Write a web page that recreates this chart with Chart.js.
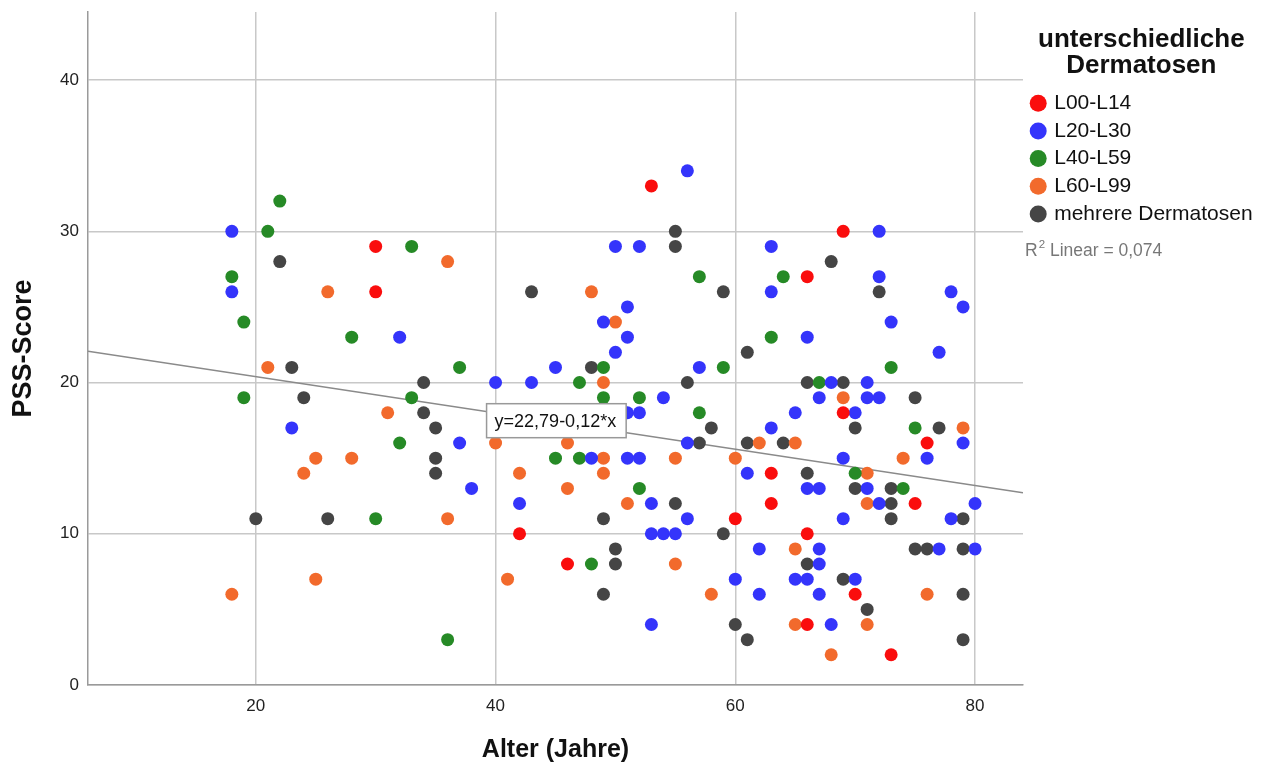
<!DOCTYPE html>
<html>
<head>
<meta charset="UTF-8">
<title>PSS-Score nach Alter</title>
<script src="https://cdn.jsdelivr.net/npm/chart.js"></script>
<style>
  html, body { margin: 0; padding: 0; background: #fff; }
  #wrap { width: 1267px; height: 767px; position: relative; }
</style>
</head>
<body>
<div id="wrap"><canvas id="chart"></canvas></div>
<script>
// Gruppen (Legende)
const groupNames = ['L00-L14', 'L20-L30', 'L40-L59', 'L60-L99', 'mehrere Dermatosen'];
const groupColors = ['#fa0d0d', '#3434fb', '#268a26', '#f26a2c', '#454545'];

// Alter / PSS-Score je Gruppe
const redAge = [53,30,30,69,66,69,63,63,76,75,60,66,42,46,70,66,73];
const redScore = [33,29,26,30,27,18,14,12,16,12,11,10,10,8,6,4,2];

const blueAge = [18,18,32,40,23,37,38,56,50,52,63,63,51,49,51,50,45,57,43,54,51,52,56,48,51,52,42,53,56,53,54,55,61,63,62,67,71,72,65,70,79,69,76,66,67,71,72,80,69,78,67,77,80,67,65,66,70,67,68,60,62,53,72,72,78,79,73,66,77,68,71];
const blueScore = [30,26,23,20,17,16,13,34,29,29,29,26,25,24,23,22,21,21,20,19,18,18,16,15,15,15,12,12,11,10,10,10,14,17,9,19,19,19,18,18,16,15,15,13,13,13,12,12,11,11,9,9,9,8,7,7,7,6,4,7,6,4,30,27,26,25,24,23,22,20,20];

const greenAge = [22,21,33,18,19,28,37,19,33,32,30,36,57,64,63,47,49,59,49,52,57,45,47,52,48,73,67,75,70,74];
const greenScore = [32,30,29,27,24,23,21,19,19,16,11,3,27,27,23,20,21,21,19,19,18,15,15,13,8,21,20,17,14,13];

const orangeAge = [36,26,21,31,25,28,24,36,40,18,25,41,48,50,49,46,49,55,60,42,49,46,51,55,58,69,79,65,74,71,71,62,65,65,71,68,76];
const orangeScore = [28,26,21,18,15,15,14,11,16,6,7,7,26,24,20,16,15,15,15,14,14,13,12,8,6,19,17,16,15,14,12,16,9,4,4,2,6];

const greyAge = [22,23,34,24,34,35,35,35,20,26,43,55,55,59,61,48,56,58,57,61,55,49,59,50,50,49,60,61,75,70,77,64,66,70,73,73,73,79,75,76,79,66,69,71,79,79,68,72,66,69];
const greyScore = [28,21,20,19,18,17,15,14,11,11,26,30,29,26,22,21,20,17,16,16,12,11,10,9,8,6,4,3,19,17,17,16,14,13,13,12,11,11,9,9,9,8,7,5,6,3,28,26,20,20];

// Regressionsgerade (aus dem Diagramm)
const fitIntercept = 22.79;
const fitSlope = -0.12;
const fitLabel = 'y=22,79-0,12*x';
const r2Value = '0,074';

// Achsen
const xMin = 6, xMax = 84;
const yMin = 0, yMax = 44.5;
const xTicks = [20, 40, 60, 80];
const yTicks = [0, 10, 20, 30, 40];

const FONT = "'Liberation Sans', Arial, sans-serif";
Chart.defaults.font.family = FONT;

function pts(xs, ys) {
    return xs.map((x, i) => ({ x: x, y: ys[i] }));
}

const groups = [
    pts(redAge, redScore),
    pts(blueAge, blueScore),
    pts(greenAge, greenScore),
    pts(orangeAge, orangeScore),
    pts(greyAge, greyScore)
];

const datasets = groups.map((d, i) => ({
    type: 'scatter',
    label: groupNames[i],
    data: d,
    backgroundColor: groupColors[i],
    borderColor: groupColors[i],
    borderWidth: 0,
    pointRadius: 6.5,
    pointHoverRadius: 6.5,
    order: 1
}));

datasets.push({
    type: 'line',
    label: 'fit',
    data: [xMin, xMax].map(x => ({ x: x, y: fitIntercept + fitSlope * x })),
    borderColor: '#8a8a8a',
    borderWidth: 1.3,
    pointRadius: 0,
    fill: false,
    order: 10
});

// Beschriftung der Geraden und R²
const extras = {
    id: 'extras',
    afterLayout(chart) {
        // Legendeneinträge etwas nach rechts, Titel bleibt mittig
        const lg = chart.legend;
        lg.left += 3;
        lg.width -= 6;
    },
    afterDatasetsDraw(chart) {
        const ctx = chart.ctx;
        const xs = chart.scales.x, ys = chart.scales.y;
        ctx.save();
        ctx.font = '18px ' + FONT;
        const w = ctx.measureText(fitLabel).width + 18;
        const left = xs.getPixelForValue(39.25);
        const top = ys.getPixelForValue(18.6);
        ctx.fillStyle = '#fff';
        ctx.fillRect(left, top, w, 34);
        ctx.strokeStyle = '#999';
        ctx.lineWidth = 1.5;
        ctx.strokeRect(left, top, w, 34);
        ctx.fillStyle = '#111';
        ctx.textBaseline = 'middle';
        ctx.fillText(fitLabel, left + 8, top + 18);
        ctx.restore();
    },
    afterDraw(chart) {
        const ctx = chart.ctx;
        let x = chart.chartArea.right + 2;
        const y = 251;
        ctx.save();
        ctx.fillStyle = '#777';
        ctx.textBaseline = 'middle';
        ctx.font = '17.5px ' + FONT;
        ctx.fillText('R', x, y);
        x += ctx.measureText('R').width + 1;
        ctx.font = '11.5px ' + FONT;
        ctx.fillText('2', x, y - 6);
        x += ctx.measureText('2').width;
        ctx.font = '17.5px ' + FONT;
        ctx.fillText(' Linear = ' + r2Value, x, y);
        ctx.restore();
    }
};

const ctx = document.getElementById('chart').getContext('2d');
const chart = new Chart(ctx, {
    data: { datasets: datasets },
    options: {
        responsive: true,
        maintainAspectRatio: false,
        animation: false,
        layout: { padding: { top: 12, right: 3.5, bottom: 0, left: 0 } },
        scales: {
            x: {
                type: 'linear',
                min: xMin,
                max: xMax,
                afterBuildTicks: s => { s.ticks = xTicks.map(v => ({ value: v })); },
                afterFit: s => { s.height = 82; },
                grid: { color: '#c8c8c8', lineWidth: 1.5, drawTicks: false },
                border: { color: '#9a9a9a', width: 1.5 },
                ticks: { color: '#222', font: { size: 17 }, padding: 11 },
                title: {
                    display: true,
                    text: 'Alter (Jahre)',
                    color: '#111',
                    font: { size: 25, weight: 'bold' },
                    padding: { top: 0, bottom: 2 }
                }
            },
            y: {
                type: 'linear',
                min: yMin,
                max: yMax,
                afterBuildTicks: s => { s.ticks = yTicks.map(v => ({ value: v })); },
                afterFit: s => { s.width = 88; s.paddingTop = 0; },
                grid: { color: '#c8c8c8', lineWidth: 1.5, drawTicks: false },
                border: { color: '#9a9a9a', width: 1.5 },
                ticks: { color: '#222', font: { size: 17 }, padding: 9 },
                title: {
                    display: true,
                    text: 'PSS-Score',
                    color: '#111',
                    font: { size: 27, weight: 'bold' },
                    padding: { top: 7, bottom: 0 }
                }
            }
        },
        plugins: {
            tooltip: { enabled: false },
            legend: {
                position: 'right',
                align: 'start',
                title: {
                    display: true,
                    text: ['unterschiedliche', 'Dermatosen'],
                    color: '#111',
                    font: { size: 26, weight: 'bold', lineHeight: 1 },
                    padding: { top: 15, bottom: 33 }
                },
                labels: {
                    filter: item => item.datasetIndex < groupNames.length,
                    usePointStyle: true,
                    pointStyle: 'circle',
                    boxHeight: 12,
                    boxWidth: 11,
                    padding: 6.7,
                    color: '#111',
                    font: { size: 21 }
                }
            }
        }
    },
    plugins: [extras]
});

// Plotbereich rechts auf x=1023 ausrichten
const diff = chart.chartArea.right - 1023;
if (Math.abs(diff) > 0.5) {
    chart.options.layout.padding.right += diff;
    chart.update();
}
</script>
</body>
</html>
